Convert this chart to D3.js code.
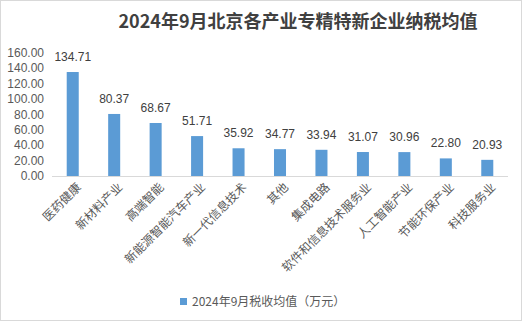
<!DOCTYPE html>
<html><head><meta charset="utf-8">
<script src="https://cdn.jsdelivr.net/npm/d3@7"></script>
<style>
body{margin:0;background:#fff;}
svg{display:block;font-family:"Liberation Sans","Noto Sans CJK SC",sans-serif;}
</style></head>
<body><svg id="c" width="523" height="322"></svg>
<script>
const categories = ["医药健康","新材料产业","高端智能","新能源智能汽车产业","新一代信息技术","其他","集成电路","软件和信息技术服务业","人工智能产业","节能环保产业","科技服务业"];
const values = [134.71,80.37,68.67,51.71,35.92,34.77,33.94,31.07,30.96,22.80,20.93];
const yTicks = [0,20,40,60,80,100,120,140,160];
const title = "2024年9月北京各产业专精特新企业纳税均值";
const seriesName = "2024年9月税收均值（万元）";

const svg = d3.select("#c");
svg.append("rect").attr("x",0.5).attr("y",0.5).attr("width",521).attr("height",320)
  .attr("fill","#fff").attr("stroke","#d9d9d9");

svg.append("text").attr("x",298).attr("y",28).attr("text-anchor","middle")
  .attr("font-size",18).attr("font-weight","bold").attr("fill","#404040")
  .attr("font-family","'Noto Sans CJK SC',sans-serif").text(title);

const x = d3.scaleBand().domain(categories).range([52,508]).paddingInner(0.71).paddingOuter(0.355);
const y = d3.scaleLinear().domain([0,160]).range([176,52.5]);

const yAxis = svg.append("g").attr("transform","translate(44,0)")
  .call(d3.axisLeft(y).tickValues(yTicks).tickFormat(d3.format(".2f")).tickSize(0).tickPadding(0));
yAxis.select(".domain").remove();
yAxis.selectAll("text").attr("font-size",12).attr("fill","#595959").attr("font-family","'Liberation Sans',sans-serif");

svg.append("line").attr("x1",52).attr("x2",508).attr("y1",176.5).attr("y2",176.5).attr("stroke","#d9d9d9");

svg.selectAll("rect.bar").data(values).join("rect").attr("class","bar")
  .attr("x",(d,i)=>x(categories[i])).attr("width",x.bandwidth())
  .attr("y",d=>y(d)).attr("height",d=>y(0)-y(d)).attr("fill","#5b9bd5");

svg.selectAll("text.val").data(values).join("text").attr("class","val")
  .attr("x",(d,i)=>x(categories[i])+x.bandwidth()/2).attr("y",d=>y(d)-11)
  .attr("text-anchor","middle").attr("font-size",12).attr("fill","#404040")
  .text(d=>d.toFixed(2));

svg.selectAll("text.cat").data(categories).join("text").attr("class","cat")
  .attr("transform",d=>`translate(${x(d)+x.bandwidth()/2+6},${185}) rotate(-45)`)
  .attr("text-anchor","end").attr("dy","0.35em").attr("font-size",12).attr("fill","#595959")
  .attr("font-family","'Noto Sans CJK SC',sans-serif").text(d=>d);

const lg = svg.append("g");
lg.append("rect").attr("x",180).attr("y",298).attr("width",7).attr("height",7).attr("fill","#5b9bd5");
lg.append("text").attr("x",192).attr("y",306).attr("font-size",12).attr("fill","#595959")
  .attr("font-family","'Noto Sans CJK SC',sans-serif").text(seriesName);
</script></body></html>
